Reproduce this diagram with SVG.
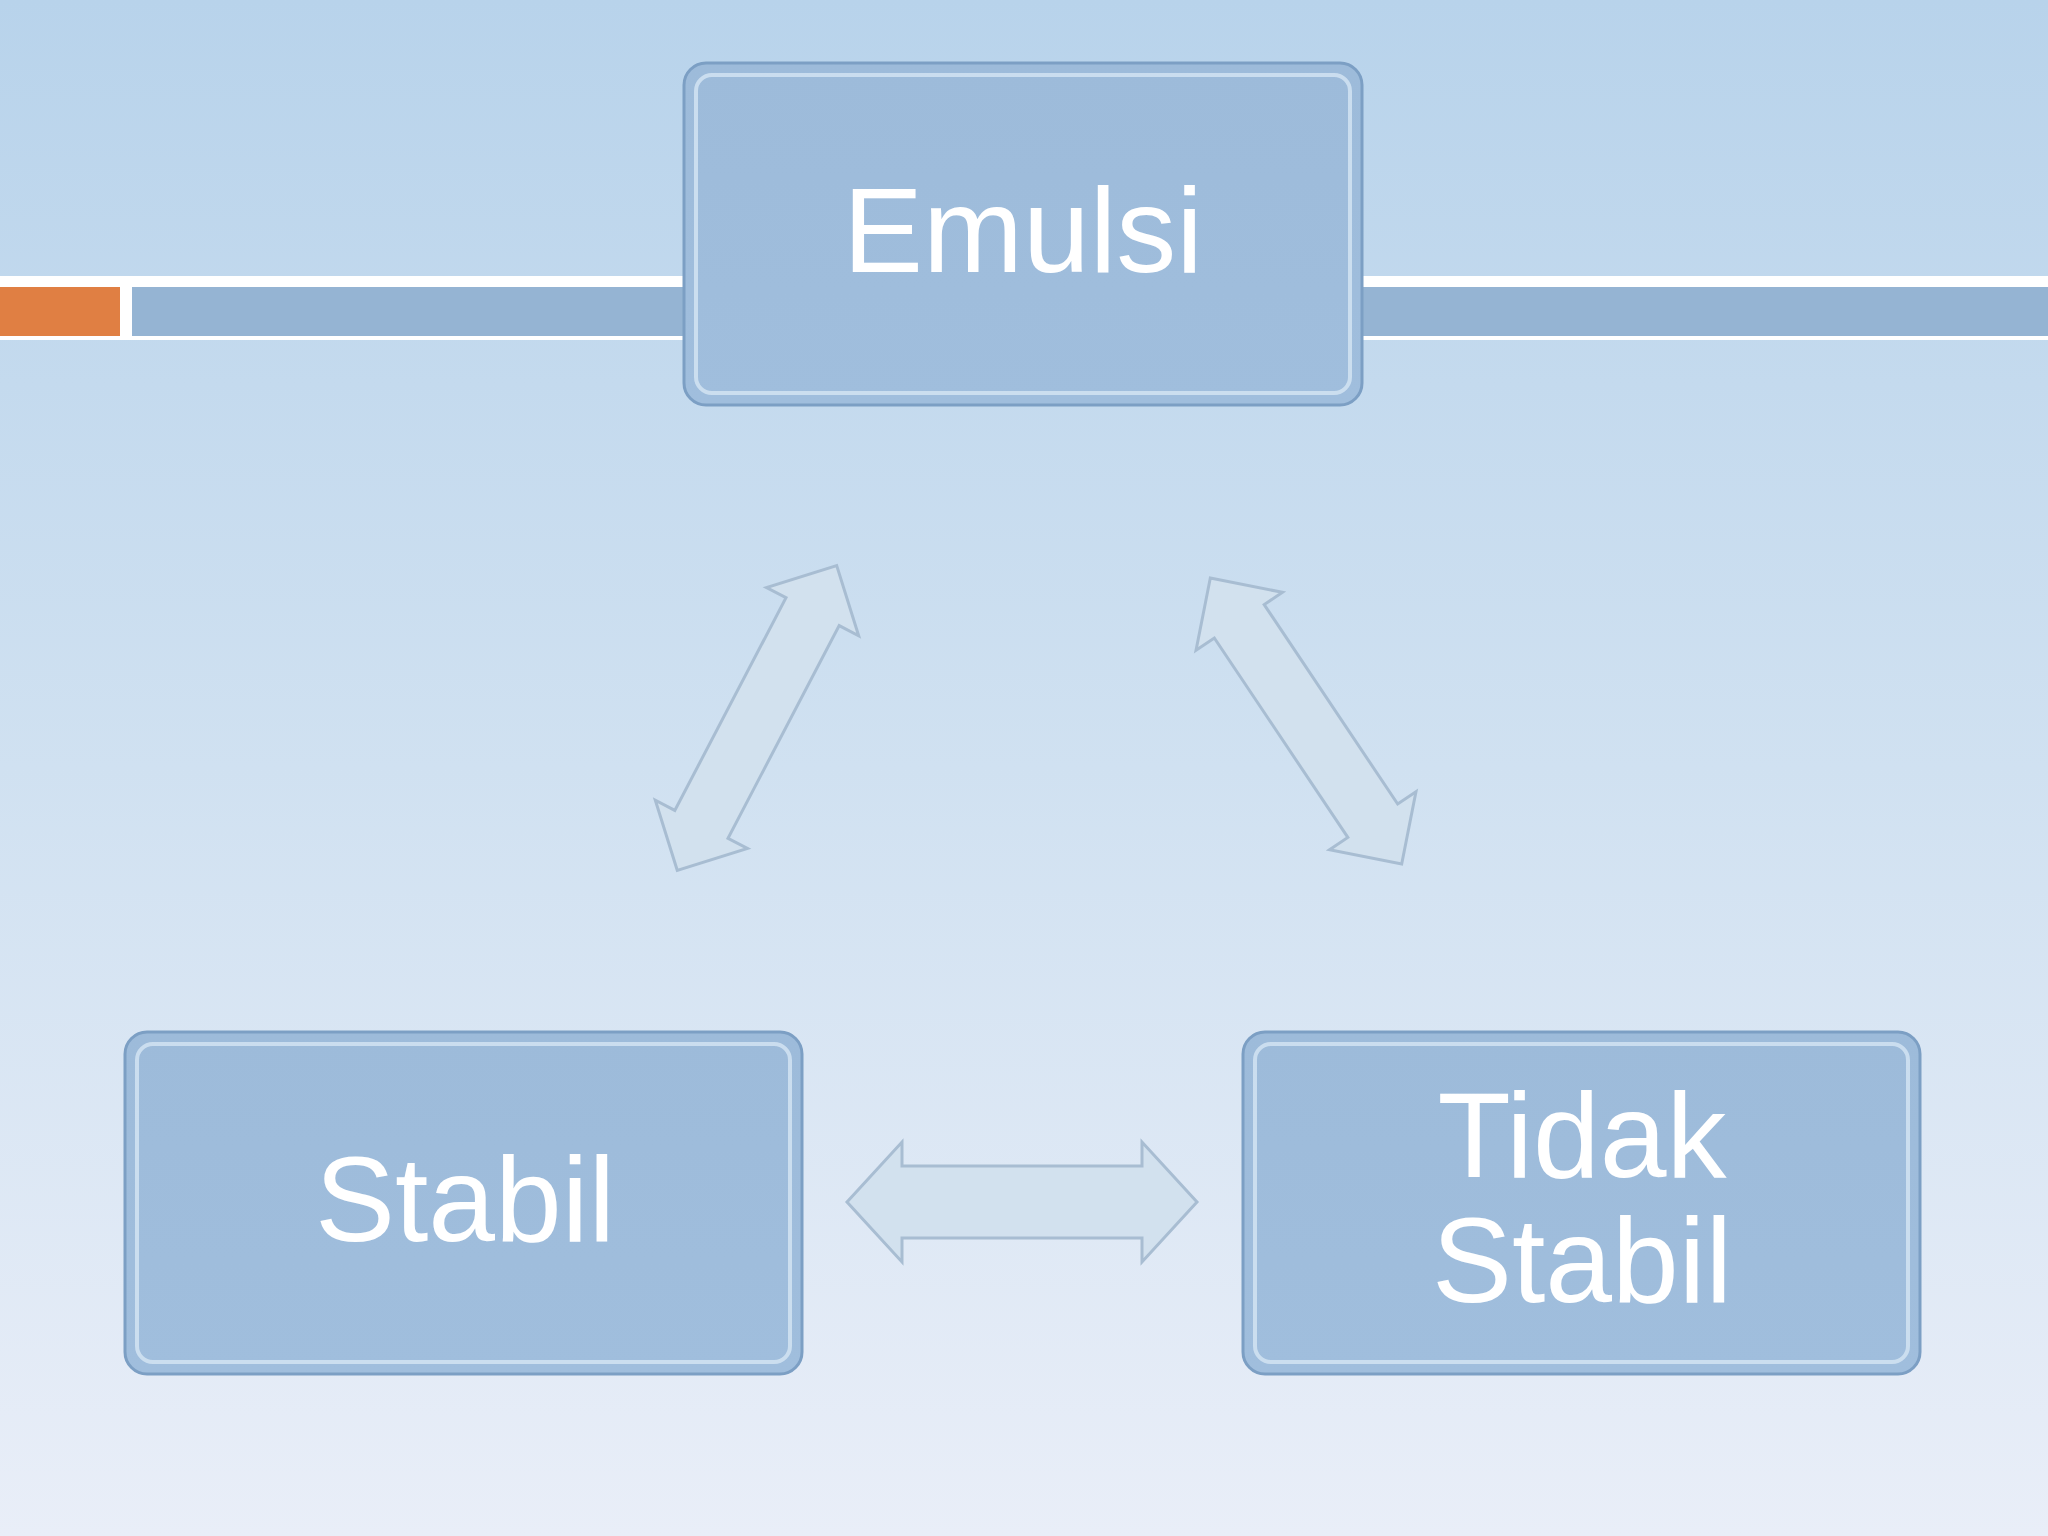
<svg xmlns="http://www.w3.org/2000/svg" width="2048" height="1536" viewBox="0 0 2048 1536">
<defs>
<linearGradient id="bg" x1="0" y1="0" x2="0" y2="1"><stop offset="0" stop-color="#b8d3eb"/><stop offset="0.5" stop-color="#d0e1f1"/><stop offset="1" stop-color="#e9eef8"/></linearGradient>
<linearGradient id="bx" x1="0" y1="0" x2="0" y2="1"><stop offset="0" stop-color="#9dbbda"/><stop offset="1" stop-color="#a0bedd"/></linearGradient>
<path id="arr" d="M-175,0 L-120,-60 L-120,-36 L120,-36 L120,-60 L175,0 L120,60 L120,36 L-120,36 L-120,60 Z"/>
<path id="arrd" d="M-172,0 L-120,-52 L-120,-30 L120,-30 L120,-52 L172,0 L120,52 L120,30 L-120,30 L-120,52 Z"/>
</defs>
<style>
.box{fill:url(#bx);stroke:#7c9fc4;stroke-width:3}
.inner{fill:none;stroke:#d6e6f4;stroke-width:4;opacity:.8}
.lbl{font-family:"Liberation Sans",Arial,sans-serif;font-size:120px;fill:#ffffff;text-anchor:middle}
.ar{fill:#d2e1ee;stroke:#a8bdd2;stroke-width:3}
</style>
<rect width="2048" height="1536" fill="url(#bg)"/>
<rect x="0" y="276" width="2048" height="64" fill="#ffffff"/>
<rect x="0" y="287" width="120" height="49" fill="#e07f43"/>
<rect x="132" y="287" width="1916" height="49" fill="#95b4d3"/>
<g id="connectors">
<use href="#arr" class="ar" transform="translate(1022,1202)"/>
<use href="#arrd" class="ar" transform="translate(757,718) rotate(-62.4)"/>
<use href="#arrd" class="ar" transform="translate(1306,721) rotate(56.2)"/>
</g>
<g id="emulsi">
<rect class="box" x="684" y="63" width="678" height="342" rx="22"/>
<rect class="inner" x="696" y="75" width="654" height="318" rx="16"/>
<text class="lbl" x="1023" y="272">Emulsi</text>
</g>
<g id="stabil">
<rect class="box" x="125" y="1032" width="677" height="342" rx="22"/>
<rect class="inner" x="137" y="1044" width="653" height="318" rx="16"/>
<text class="lbl" x="465" y="1241">Stabil</text>
</g>
<g id="tidak-stabil">
<rect class="box" x="1243" y="1032" width="677" height="342" rx="22"/>
<rect class="inner" x="1255" y="1044" width="653" height="318" rx="16"/>
<text class="lbl" x="1582" y="1177">Tidak</text>
<text class="lbl" x="1582" y="1302">Stabil</text>
</g>
</svg>
